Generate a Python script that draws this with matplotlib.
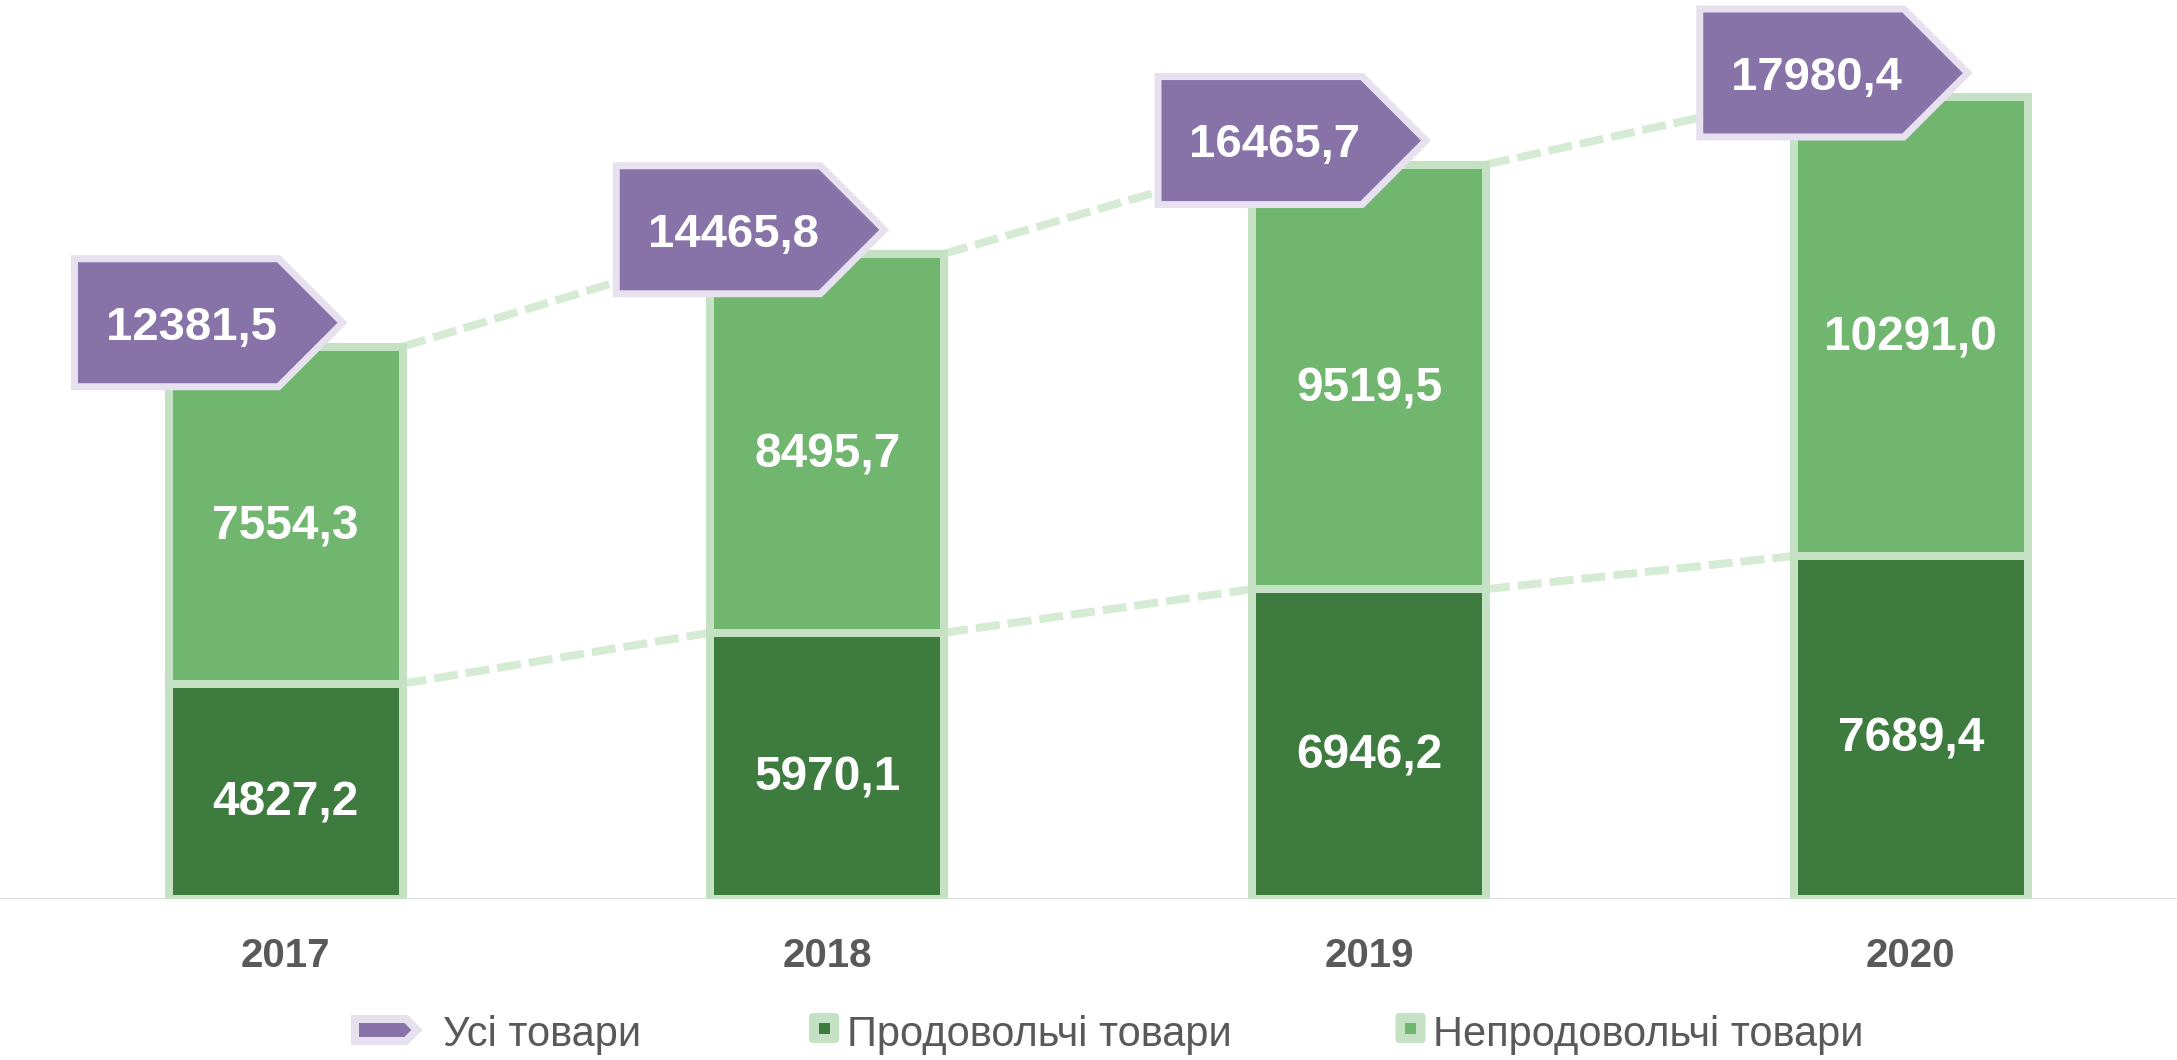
import matplotlib
matplotlib.use('Agg')
import matplotlib.pyplot as plt
import matplotlib.patches as mpatches
import matplotlib.transforms as mtransforms

# ---- data ----
years = ['2017', '2018', '2019', '2020']
food = [4827.2, 5970.1, 6946.2, 7689.4]          # Продовольчі товари
nonfood = [7554.3, 8495.7, 9519.5, 10291.0]      # Непродовольчі товари
total = [12381.5, 14465.8, 16465.7, 17980.4]     # Усі товари
series_names = ['Усі товари', 'Продовольчі товари', 'Непродовольчі товари']

# ---- style ----
W, H, DPI = 2177, 1060, 100
PT = 72.0 / DPI   # points per pixel
FONT = ['Liberation Sans', 'DejaVu Sans']
plt.rcParams['font.family'] = FONT
plt.rcParams['lines.scale_dashes'] = False

C_FOOD = '#3e7b3e'
C_NONFOOD = '#71b66e'
C_EDGE = '#c5e1c3'
C_DASH = '#d6ebd4'
C_PURPLE = '#8773a8'
C_LAV = '#e7e1ef'
C_TEXT = '#595959'
C_AXIS = '#d9d9d9'

def fmt(v):
    return f"{v:.1f}".replace('.', ',')

fig = plt.figure(figsize=(W / DPI, H / DPI), dpi=DPI)
base_px = 899
ax = fig.add_axes([0, (H - base_px) / H, 1, base_px / H])
spacing_px = 541.75
x0_px = 285.5
xs = list(range(len(years)))
ax.set_xlim(-x0_px / spacing_px, (W - x0_px) / spacing_px)
px_per_unit = 802.0 / 17980.4
ax.set_ylim(0, base_px / px_per_unit)
for s in ax.spines.values():
    s.set_visible(False)
ax.set_yticks([])

bw = 234 / spacing_px
ax.axhline(0, color=C_AXIS, lw=2 * PT, zorder=1)

ax.bar(xs, food, width=bw, color=C_FOOD, edgecolor=C_EDGE, linewidth=8 * PT,
       zorder=3, label=series_names[1])
ax.bar(xs, nonfood, width=bw, bottom=food, color=C_NONFOOD, edgecolor=C_EDGE,
       linewidth=8 * PT, zorder=3, label=series_names[2])

# series (dashed) lines
for i in range(len(xs) - 1):
    for arr in (food, total):
        ax.plot([xs[i] + bw / 2, xs[i + 1] - bw / 2], [arr[i], arr[i + 1]],
                color=C_DASH, lw=8 * PT, dashes=(24 * PT, 8 * PT),
                solid_capstyle='butt', dash_capstyle='butt', zorder=2)

# value labels inside bars
fs_val = 34.5
cap_val = 0.716 * fs_val / PT
for i in xs:
    for bottom, h in ((0, food[i]), (food[i], nonfood[i])):
        ax.annotate(fmt(h), xy=(xs[i], bottom + h / 2),
                    xytext=(0, -(7 + cap_val / 2) * PT), textcoords='offset points',
                    ha='center', va='baseline', color='white', fontsize=fs_val,
                    fontweight='bold', zorder=5)

# callouts with totals
cx, cy = -77, 24
hw, hh = 134, 64
verts = [(cx - hw, cy - hh), (cx + hw - hh, cy - hh), (cx + hw, cy),
         (cx + hw - hh, cy + hh), (cx - hw, cy + hh)]
fs_tot = 34
cap_tot = 0.716 * fs_tot / PT
for i in xs:
    tr = mtransforms.Affine2D() + mtransforms.ScaledTranslation(xs[i], total[i], ax.transData)
    poly = mpatches.Polygon(verts, closed=True, facecolor=C_PURPLE, edgecolor=C_LAV,
                            linewidth=7 * PT, joinstyle='miter', transform=tr,
                            zorder=6, clip_on=False)
    ax.add_patch(poly)
    ax.annotate(fmt(total[i]), xy=(xs[i], total[i]),
                xytext=((cx - 17) * PT, (cy - cap_tot / 2) * PT), textcoords='offset points',
                ha='center', va='baseline', color='white', fontsize=fs_tot,
                fontweight='bold', zorder=7, annotation_clip=False)

# year tick labels
ax.set_xticks(xs)
ax.set_xticklabels(years, fontsize=29, fontweight='bold', color=C_TEXT)
ax.tick_params(axis='x', length=0, pad=(967 - base_px) * PT)
for lab in ax.get_xticklabels():
    lab.set_va('baseline')

# legend (drawn in figure pixel coordinates, y from top)
pxT = mtransforms.Affine2D().scale(1, -1).translate(0, H)
lcx, lcy, lhw, lhh = 386, 1030, 31, 11
lverts = [(lcx - lhw, lcy - lhh), (lcx + lhw - lhh, lcy - lhh), (lcx + lhw, lcy),
          (lcx + lhw - lhh, lcy + lhh), (lcx - lhw, lcy + lhh)]
fig.add_artist(mpatches.Polygon(lverts, closed=True, facecolor=C_PURPLE, edgecolor=C_LAV,
                                linewidth=8 * PT, joinstyle='miter', transform=pxT))
for mx, col in ((824, C_FOOD), (1410.5, C_NONFOOD)):
    fig.add_artist(mpatches.FancyBboxPatch((mx - 15, 1013), 30, 30,
                                           boxstyle='round,pad=0,rounding_size=4',
                                           facecolor=C_EDGE, edgecolor='none', transform=pxT))
    fig.add_artist(mpatches.Rectangle((mx - 5.5, 1022.5), 11, 11, facecolor=col,
                                      edgecolor='none', transform=pxT))
for tx, name in ((443, series_names[0]), (847, series_names[1]), (1433, series_names[2])):
    fig.text(tx, 1046, name, transform=pxT, ha='left', va='baseline',
             fontsize=30, color=C_TEXT)

fig.savefig('out.png', dpi=DPI)
